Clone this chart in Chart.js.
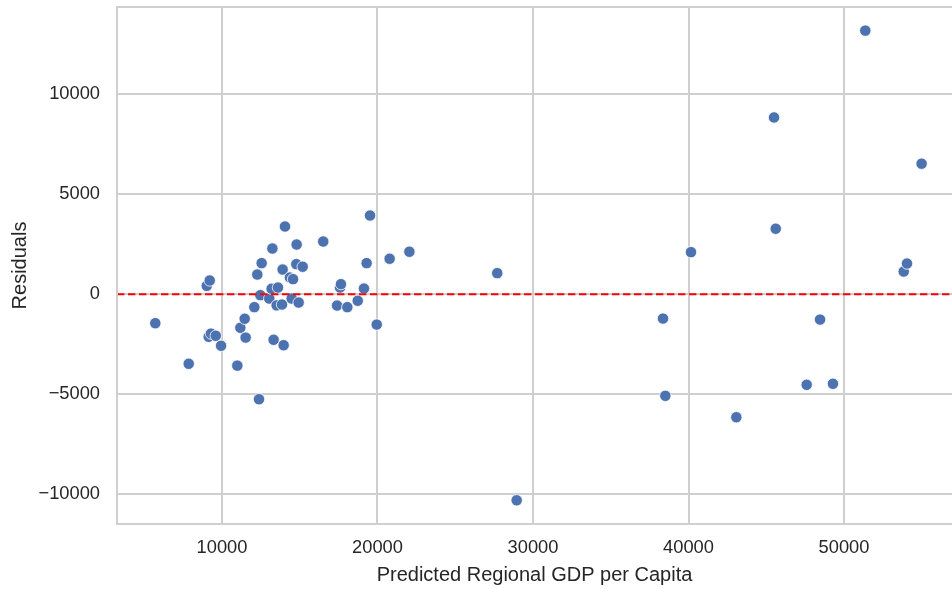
<!DOCTYPE html>
<html>
<head>
<meta charset="utf-8">
<script src="https://cdn.jsdelivr.net/npm/chart.js@4/dist/chart.umd.min.js"></script>
<style>
  html, body { margin: 0; padding: 0; background: #ffffff; }
  #c { display: block; }
</style>
</head>
<body>
<canvas id="c" width="952" height="589"></canvas>
<script>
// Predicted values (x) and residuals (y)
const predicted = [
  5710, 7860, 9020, 9210, 9145, 9290, 9600, 9940, 10985, 11180,
  11460, 11520, 12080, 12270, 12550, 12380, 12465, 13040, 13240, 13190,
  13320, 13600, 13515, 13860, 13900, 13965, 14050, 14370, 14570, 14480,
  14800, 14780, 14930, 15190, 16510, 17400, 17590, 17650, 18060, 18730,
  19130, 19300, 19520, 19950, 20780, 22050, 27700, 28950, 38360, 38510,
  40160, 43075, 45500, 45610, 47600, 48460, 49290, 51370, 53840, 54050,
  54990
];
const residuals = [
  -1450, -3480, 415, 683, -2130, -1970, -2080, -2580, -3570, -1680,
  -1230, -2170, -650, 980, 1550, -5250, -50, -220, 2280, 270,
  -2280, 330, -560, -520, 1230, -2550, 3380, 830, 750, -220,
  2480, 1500, -420, 1370, 2630, -570, 330, 500, -650, -330,
  280, 1550, 3930, -1520, 1770, 2120, 1050, -10300, -1220, -5080,
  2100, -6150, 8830, 3270, -4530, -1270, -4480, 13170, 1130, 1530,
  6520
];
const xTicks = [10000, 20000, 30000, 40000, 50000];
const yTicks = [-10000, -5000, 0, 5000, 10000];
const xRange = [3248, 56945];
const yRange = [-11485, 14350];
const zeroLine = [0, 0];

const points = predicted.map((x, i) => ({ x: x, y: residuals[i] }));
const refLine = [{ x: xRange[0], y: zeroLine[0] }, { x: xRange[1], y: zeroLine[1] }];

const FONT = '"Liberation Sans", Arial, "DejaVu Sans", sans-serif';
const GRID = '#cfcfcf';

const frame = {
  id: 'frame',
  afterDatasetsDraw(chart) {
    const a = chart.chartArea;
    const ctx = chart.ctx;
    ctx.save();
    ctx.strokeStyle = GRID;
    ctx.lineWidth = 2;
    ctx.beginPath();
    ctx.moveTo(a.right + 2, a.top);
    ctx.lineTo(a.left, a.top);
    ctx.lineTo(a.left, a.bottom);
    ctx.lineTo(a.right + 2, a.bottom);
    ctx.stroke();
    ctx.restore();
  }
};

new Chart(document.getElementById('c'), {
  type: 'scatter',
  data: {
    datasets: [
      {
        type: 'line',
        data: refLine,
        borderColor: '#ff0000',
        borderWidth: 2,
        borderDash: [7.4, 3.6],
        pointRadius: 0,
        fill: false,
        order: 0
      },
      {
        data: points,
        backgroundColor: '#4c72b0',
        borderColor: '#ffffff',
        borderWidth: 0.8,
        pointRadius: 5.7,
        pointHoverRadius: 5.7,
        order: 1
      }
    ]
  },
  options: {
    responsive: false,
    animation: false,
    events: [],
    layout: { autoPadding: false, padding: { top: 7, right: 0, bottom: 0, left: 0 } },
    plugins: {
      legend: { display: false },
      tooltip: { enabled: false }
    },
    scales: {
      x: {
        type: 'linear',
        min: xRange[0],
        max: xRange[1],
        afterFit: (s) => { s.height = 65; s.paddingLeft = 0; s.paddingRight = 0; },
        afterBuildTicks: (s) => { s.ticks = xTicks.map(v => ({ value: v })); },
        grid: { color: GRID, lineWidth: 2, drawTicks: false },
        border: { display: false },
        ticks: {
          includeBounds: false,
          padding: 12.5,
          color: '#262626',
          font: { family: FONT, size: 18.3 },
          callback: (v) => String(v)
        },
        title: {
          display: true,
          text: 'Predicted Regional GDP per Capita',
          color: '#262626',
          font: { family: FONT, size: 20 },
          padding: { top: 0, bottom: 2 }
        }
      },
      y: {
        type: 'linear',
        min: yRange[0],
        max: yRange[1],
        afterFit: (s) => { s.width = 117; s.paddingTop = 0; s.paddingBottom = 0; },
        afterBuildTicks: (s) => { s.ticks = yTicks.map(v => ({ value: v })); },
        grid: { color: GRID, lineWidth: 2, drawTicks: false },
        border: { display: false },
        ticks: {
          includeBounds: false,
          padding: 17,
          color: '#262626',
          font: { family: FONT, size: 18.3 },
          callback: (v) => (v < 0 ? '\u2212' + String(-v) : String(v))
        },
        title: {
          display: true,
          text: 'Residuals',
          color: '#262626',
          font: { family: FONT, size: 20 },
          padding: { top: 8, bottom: 0 }
        }
      }
    }
  },
  plugins: [frame]
});
</script>
</body>
</html>
